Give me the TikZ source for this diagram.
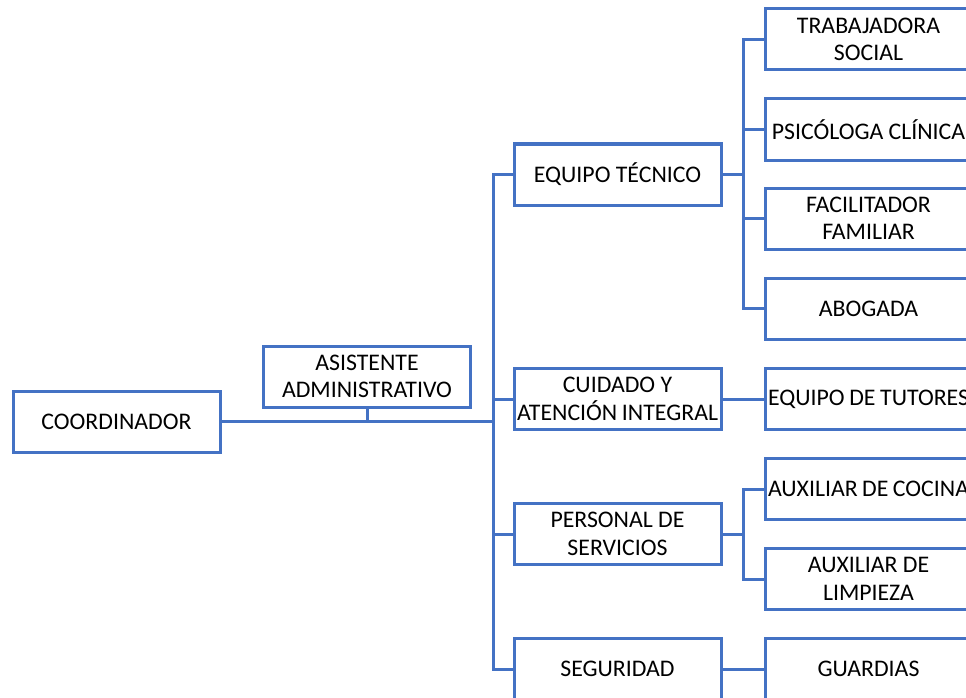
\documentclass[tikz,border=0pt]{standalone}
\usepackage{fontspec}
\setmainfont{Carlito}
\definecolor{obl}{RGB}{68,114,196}
\newcommand\fitline[1]{\hbox to 201pt{\hfil #1\hfil}}
\tikzset{
  orgbox/.style={draw=obl, line width=3pt, fill=white, minimum width=207pt, minimum height=61pt,
    inner sep=3pt, align=center, font=\fontsize{23.8}{27.5}\selectfont, text=black},
  link/.style={draw=obl, line width=3pt, line join=miter}
}
\begin{document}
\begin{tikzpicture}[x=1pt,y=-1pt]
\useasboundingbox (0,0) rectangle (966,698);
% level 1
\node[orgbox] (coord) at (116.5,421.5) {COORDINADOR};
\node[orgbox] (asis) at (367,376.5) {ASISTENTE\\ADMINISTRATIVO};
% level 2
\node[orgbox] (eq) at (617.5,174.5) {EQUIPO TÉCNICO};
\node[orgbox] (cu) at (617.5,399) {\fitline{CUIDADO Y}\\\fitline{ATENCIÓN INTEGRAL}};
\node[orgbox] (pe) at (617.5,534) {PERSONAL DE\\SERVICIOS};
\node[orgbox] (se) at (617.5,669) {SEGURIDAD};
% level 3
\node[orgbox] (ts) at (868.5,39.5) {TRABAJADORA\\SOCIAL};
\node[orgbox] (ps) at (868.5,129.5) {\fitline{PSICÓLOGA CLÍNICA}};
\node[orgbox] (fa) at (868.5,218.5) {FACILITADOR\\FAMILIAR};
\node[orgbox] (ab) at (868.5,308.5) {ABOGADA};
\node[orgbox] (tu) at (868.5,399) {\fitline{EQUIPO DE TUTORES}};
\node[orgbox] (co) at (868.5,489) {\fitline{AUXILIAR DE COCINA}};
\node[orgbox] (li) at (868.5,579) {AUXILIAR DE\\LIMPIEZA};
\node[orgbox] (gu) at (868.5,669) {GUARDIAS};
% junctions
\coordinate (t1) at (493,421.5);
\coordinate (t2) at (743,174.5);
\coordinate (t3) at (743,534);
% connectors
\draw[link, line width=3.5pt] (coord.east) -- (t1);
\draw[link] (asis.south) -- (asis.south |- t1);
\draw[link] (t1) |- (eq.west);
\draw[link] (t1) |- (cu.west);
\draw[link] (t1) |- (pe.west);
\draw[link] (t1) |- (se.west);
\draw[link] (eq.east) -- (t2);
\draw[link] (t2) |- (ts.west);
\draw[link] (t2) |- (ps.west);
\draw[link] (t2) |- (fa.west);
\draw[link] (t2) |- (ab.west);
\draw[link] (cu.east) -- (tu.west);
\draw[link] (pe.east) -- (t3);
\draw[link] (t3) |- (co.west);
\draw[link] (t3) |- (li.west);
\draw[link] (se.east) -- (gu.west);
\end{tikzpicture}
\end{document}
